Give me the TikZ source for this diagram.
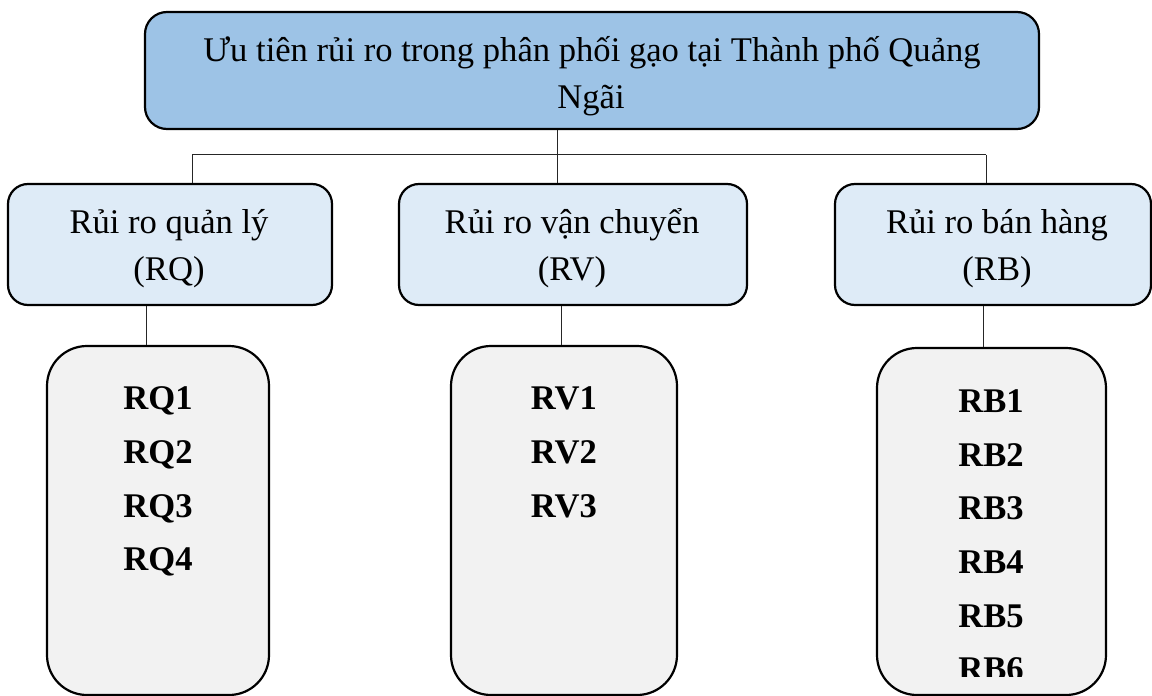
\documentclass[tikz,border=0pt]{standalone}
\usepackage{fontspec}
\setmainfont{Liberation Serif}
\definecolor{topblue}{HTML}{9DC3E6}
\definecolor{midblue}{HTML}{DEEBF7}
\definecolor{lowgray}{HTML}{F2F2F2}
\tikzset{
  topbox/.style={draw=black, line width=2.2pt, fill=topblue, rounded corners=22pt, inner sep=0pt},
  midbox/.style={draw=black, line width=2.2pt, fill=midblue, rounded corners=20pt, inner sep=0pt},
  lowbox/.style={draw=black, line width=2.2pt, fill=lowgray, rounded corners=40pt, inner sep=0pt},
  lbl/.style={anchor=base, inner sep=0pt, font=\fontsize{34.6}{40}\selectfont},
  itm/.style={anchor=base, inner sep=0pt, font=\fontsize{34.6}{40}\selectfont\bfseries},
  link/.style={line width=1pt, draw=black!85}
}
\begin{document}
\begin{tikzpicture}[x=1pt,y=-1pt]
\useasboundingbox (0,0) rectangle (1152,696);
% boxes
\node[topbox, minimum width=894pt, minimum height=117pt] (top) at (592,70.5) {};
\node[midbox, minimum width=324pt, minimum height=121pt] (rq) at (170,244.5) {};
\node[midbox, minimum width=348pt, minimum height=121pt] (rv) at (573,244.5) {};
\node[midbox, minimum width=316pt, minimum height=121pt] (rb) at (993,244.5) {};
\node[lowbox, minimum width=222pt, minimum height=349pt] (lq) at (158,520.5) {};
\node[lowbox, minimum width=226pt, minimum height=349pt] (lv) at (564,520.5) {};
\node[lowbox, minimum width=229pt, minimum height=347pt] (lb) at (991.5,521.5) {};
% connectors
\coordinate (jq) at (192,154.5);
\coordinate (jv) at (557,154.5);
\coordinate (jb) at (986,154.5);
\coordinate (kq) at (146,0);
\coordinate (kv) at (561,0);
\coordinate (kb) at (983,0);
\draw[link] (jv |- top.south) -- (jv |- rv.north);
\draw[link] (jq) -- (jb);
\draw[link] (jq) -- (jq |- rq.north);
\draw[link] (jb) -- (jb |- rb.north);
\draw[link] (kq |- rq.south) -- (kq |- lq.north);
\draw[link] (kv |- rv.south) -- (kv |- lv.north);
\draw[link] (kb |- rb.south) -- (kb |- lb.north);
% texts
\node[lbl] (t1) at (592,61) {Ưu tiên rủi ro trong phân phối gạo tại Thành phố Quảng};
\node[lbl] (t2) at (591,108) {Ngãi};
\node[lbl] (q1) at (169,233) {Rủi ro quản lý};
\node[lbl] (q2) at (169,280) {(RQ)};
\node[lbl] (v1) at (572,233) {Rủi ro vận chuyển};
\node[lbl] (v2) at (572,280) {(RV)};
\node[lbl] (b1) at (997,233) {Rủi ro bán hàng};
\node[lbl] (b2) at (997,280) {(RB)};
\node[itm] (rq1) at (158,409) {RQ1};
\node[itm] (rq2) at (158,463) {RQ2};
\node[itm] (rq3) at (158,517) {RQ3};
\node[itm] (rq4) at (158,570) {RQ4};
\node[itm] (rv1) at (564,409) {RV1};
\node[itm] (rv2) at (564,463) {RV2};
\node[itm] (rv3) at (564,517) {RV3};
\node[itm] (rb1) at (991,412) {RB1};
\node[itm] (rb2) at (991,466) {RB2};
\node[itm] (rb3) at (991,519) {RB3};
\node[itm] (rb4) at (991,573) {RB4};
\node[itm] (rb5) at (991,627) {RB5};
\begin{scope}
\clip (880,600) rectangle (1100,676);
\node[itm] (rb6) at (991,680) {RB6};
\end{scope}
\end{tikzpicture}
\end{document}
